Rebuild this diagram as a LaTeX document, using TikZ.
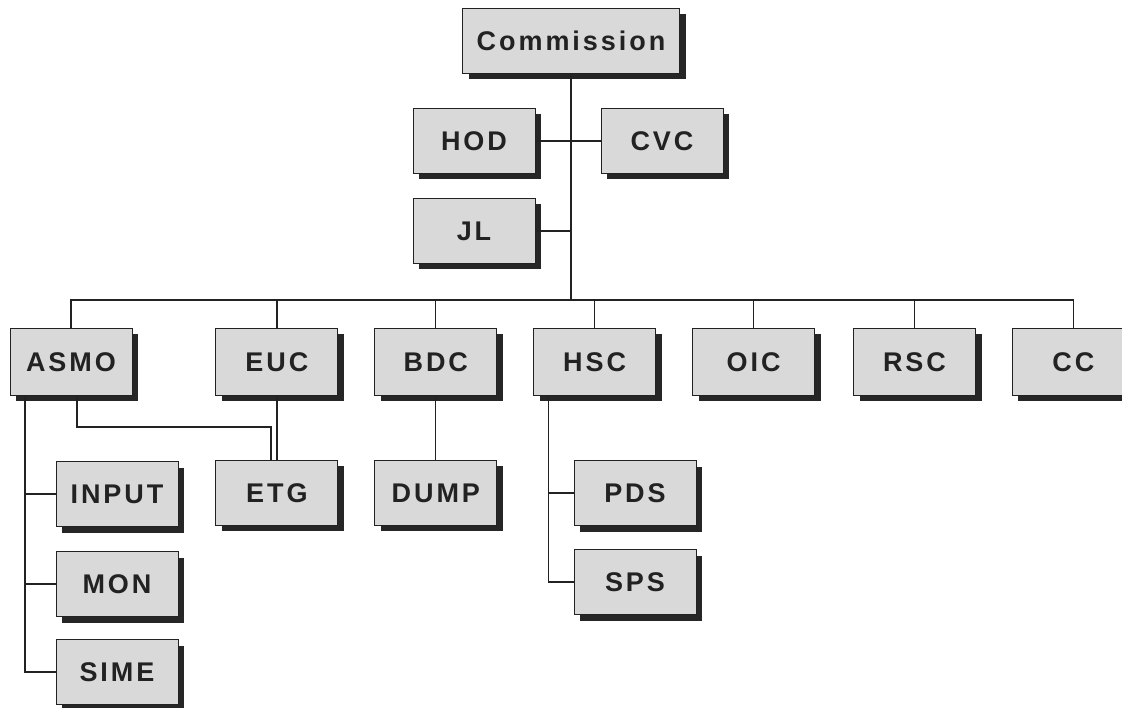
\documentclass[tikz,border=0pt]{standalone}
\usepackage{fontspec}
\setmainfont{Liberation Sans}[LetterSpace=11]
\usetikzlibrary{positioning, shadows}

\definecolor{boxgray}{HTML}{D9D9D9}
\definecolor{inkgray}{HTML}{222222}

\begin{document}
\begin{tikzpicture}[
  x=1pt, y=-1pt,
  font=\fontsize{27}{30}\selectfont\bfseries,
  unit/.style={draw=inkgray, line width=0.9pt, fill=boxgray, text=inkgray,
    minimum width=122pt, minimum height=65pt, inner sep=0pt,
    drop shadow={shadow xshift=6pt, shadow yshift=-6pt, fill=black!85, opacity=1}},
  link/.style={draw=inkgray, line width=1.2pt}
]
\useasboundingbox[fill=white] (0,0) rectangle (1122,708);

% top of the chart
\node[unit, minimum width=217pt] (comm) at (571,41) {Commission};
\node[unit] (hod) at (474,141) {HOD};
\node[unit] (cvc) at (662,141) {CVC};
\node[unit] (jl) at (474,231) {JL};
\coordinate (bus) at (571,300);

% second level
\node[unit, minimum height=67pt] (asmo) at (71,362) {ASMO};
\node[unit, minimum height=67pt, right=83pt of asmo] (euc) {EUC};
\node[unit, minimum height=67pt, right=36pt of euc] (bdc) {BDC};
\node[unit, minimum height=67pt, right=36pt of bdc] (hsc) {HSC};
\node[unit, minimum height=67pt, right=36pt of hsc] (oic) {OIC};
\node[unit, minimum height=67pt, right=38pt of oic] (rsc) {RSC};
\node[unit, minimum height=67pt, right=36pt of rsc] (cc) {CC};

% third level
\node[unit] (input) at (117,494) {INPUT};
\node[unit] (mon) at (117,584) {MON};
\node[unit] (sime) at (117,672) {SIME};
\node[unit, below=64pt of euc] (etg) {ETG};
\node[unit, below=64pt of bdc] (dump) {DUMP};
\node[unit] (pds) at (635,493) {PDS};
\node[unit] (sps) at (635,582) {SPS};

% connectors
\draw[link] (comm) -- (bus);
\draw[link] (hod) -- (cvc);
\draw[link] (jl.east) -- (jl.east -| bus);
\foreach \n in {asmo,euc,bdc,hsc,oic,rsc,cc}
  \draw[link] (\n.north) |- (bus);

\coordinate (asmoleg) at ([xshift=-46pt]asmo.south);
\foreach \n in {input,mon,sime}
  \draw[link] (asmoleg) |- (\n.west);
\draw[link] ([xshift=6pt]asmo.south) -- ++(0,31) -| ([xshift=-6pt]etg.north);
\draw[link] (euc) -- (etg);
\draw[link] (bdc) -- (dump);

\coordinate (hscleg) at ([xshift=-46pt]hsc.south);
\foreach \n in {pds,sps}
  \draw[link] (hscleg) |- (\n.west);
\end{tikzpicture}
\end{document}
